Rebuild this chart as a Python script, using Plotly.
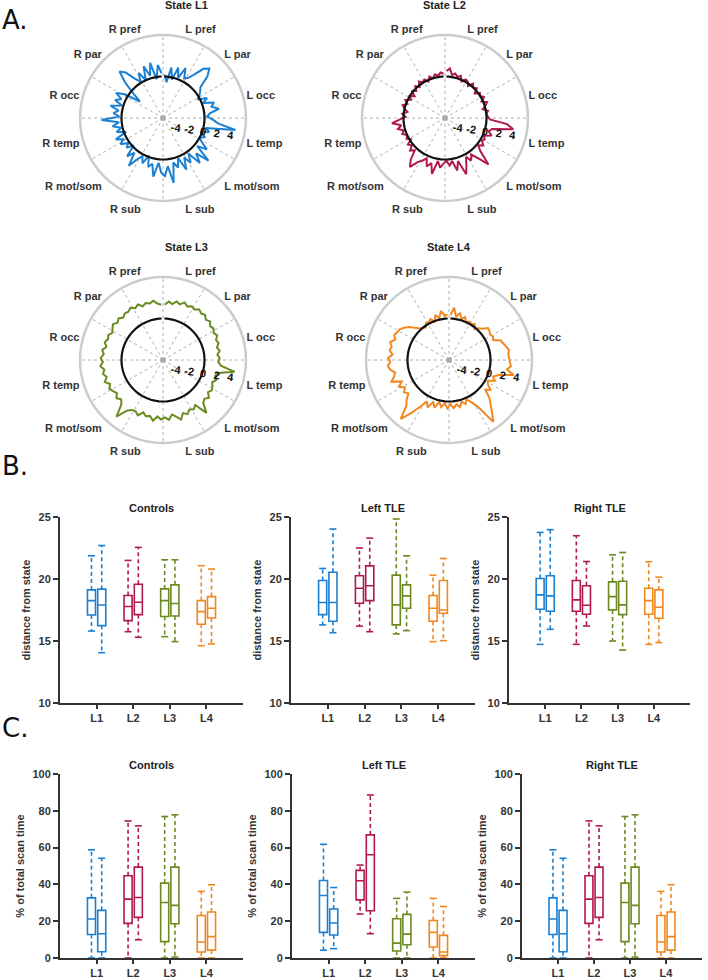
import plotly.graph_objects as go

FONT = "Liberation Sans, Arial, sans-serif"
W, H = 708, 980

# ------------------------------------------------------------------
# A. state profiles (polar); 8 nodes per region, clockwise from top
# ------------------------------------------------------------------
regions = ["L pref", "L par", "L occ", "L temp", "L mot/som", "L sub",
           "R sub", "R mot/som", "R temp", "R occ", "R par", "R pref"]
states = ["L1", "L2", "L3", "L4"]
colours = ["#1b80d2", "#b2194b", "#6a8b22", "#f0881f"]
radial_ticks = [-4, -2, 0, 2, 4]
radial_text = ["-4", "-2", "0", "2", "4"]

dev_L1 = [0.3, -0.8, 1.4, -0.3, 1.6, 0.2, 1.9, 0.5,
          0.8, 1.7, 3.2, 3.8, 2.8, 1.0, 0.6, 0.2,
          -0.3, 1.0, 0.2, 1.7, 1.2, 2.2, 0.8, 0.4,
          1.2, 2.0, 4.6, 0.3, 1.0, -0.2, 0.7, 0.0,
          0.6, 1.8, 0.4, 3.0, 1.0, 2.4, 0.3, 1.6,
          0.5, 2.2, 0.2, 1.5, 0.6, 3.5, 1.0, 2.4,
          1.9, 0.5, 2.6, 0.8, 1.4, -0.2, 1.2, 0.3,
          1.0, 2.5, 0.5, 1.6, -0.2, 0.8, 0.2, 1.2,
          0.5, 1.5, -0.3, 1.0, 0.2, 1.4, 0.4, 2.9,
          0.3, 1.2, 0.5, 1.8, 0.2, 1.4, 0.6, 1.7,
          0.5, -1.9, -0.5, 1.5, 3.2, 2.5, 1.0, 0.2,
          1.4, 0.0, 2.0, 0.4, 2.2, -0.3, 1.7, 0.5]
dev_L2 = [0.8, 1.2, 0.3, 0.6, 0.2, 0.5, -0.2, 0.3,
          0.2, -0.3, 0.4, 0.0, 0.3, -0.5, 0.2, 0.0,
          0.4, -0.2, 0.5, 0.1, -0.4, 0.3, 0.0, 0.2,
          0.5, 3.0, 4.0, 1.0, 0.6, 1.2, 0.2, 0.5,
          0.3, 0.8, 0.2, 1.0, 3.2, 1.5, 0.5, 1.2,
          0.4, 1.5, 2.7, 0.5, 1.8, 0.3, 0.9, 0.2,
          0.6, 1.2, 0.3, 2.3, 0.8, 1.5, 0.4, 1.0,
          1.5, 2.7, 1.8, 0.4, 0.9, 0.2, 0.6, -0.2,
          0.3, 0.0, 0.6, 0.2, 1.0, 0.4, 1.7, 0.5,
          -0.3, 0.2, -0.5, 0.0, 0.4, -0.2, 0.3, -0.4,
          0.0, -0.6, 0.2, -0.3, 0.3, -0.2, 0.5, 0.1,
          0.3, -0.2, 0.4, 0.0, 0.5, 0.2, 0.6, 0.4]
dev_L3 = [2.0, 2.5, 2.2, 2.7, 2.4, 2.9, 2.5, 2.8,
          2.6, 3.0, 2.7, 2.9, 2.5, 2.8, 2.4, 2.6,
          2.3, 2.6, 2.2, 2.4, 2.0, 2.3, 1.9, 2.2,
          2.0, 2.4, 4.5, 2.2, 1.9, 2.2, 1.8, 2.1,
          2.3, 2.0, 2.6, 2.2, 2.5, 3.9, 2.0, 2.4,
          2.1, 2.6, 2.2, 3.0, 2.4, 2.0, 2.7, 2.3,
          2.6, 2.2, 2.9, 2.3, 2.5, 2.1, 2.8, 2.4,
          2.5, 3.0, 4.6, 2.8, 2.3, 2.7, 2.2, 2.5,
          2.8, 2.4, 3.0, 2.5, 2.9, 2.6, 3.1, 2.7,
          3.0, 2.6, 2.9, 2.4, 2.8, 2.5, 2.7, 2.3,
          2.6, 2.9, 2.5, 2.8, 2.4, 2.7, 2.6, 2.9,
          2.5, 2.8, 2.3, 2.6, 2.4, 2.7, 2.2, 2.0]
dev_L4 = [0.5, 1.6, 0.3, 1.0, 0.2, 0.6, 0.0, 0.3,
          0.1, 0.4, -0.2, 0.3, 0.6, 1.3, 1.2, 1.0,
          1.2, 1.0, 2.0, 2.2, 2.5, 2.8, 2.6, 2.7,
          2.8, 3.0, 2.5, 3.6, 1.5, 0.8, 1.3, 0.4,
          0.6, 1.4, 0.8, 2.0, 2.8, 3.8, 5.0, 2.0,
          1.0, 0.2, 0.8, 0.3, 1.0, 0.5, 1.0, 0.4,
          1.0, 0.3, 0.9, 0.2, 1.2, 0.5, 1.5, 0.8,
          2.0, 3.5, 5.0, 3.0, 2.4, 1.6, 2.0, 1.5,
          2.2, 1.5, 2.9, 2.3, 2.0, 2.6, 2.9, 2.5,
          2.8, 2.2, 2.7, 2.5, 2.9, 2.3, 2.7, 2.5,
          2.4, 2.0, 1.5, 0.8, 0.3, 0.0, -0.2, 0.3,
          0.2, 0.5, -0.1, 0.8, 0.2, 1.2, 0.4, 0.6]
profiles = [dev_L1, dev_L2, dev_L3, dev_L4]

# ------------------------------------------------------------------
# B / C. box stats per group: [low whisker, q1, median, q3, high whisker]
# two boxes per state (L1a, L1b, L2a, L2b, ...)
# ------------------------------------------------------------------
box_cats = ["L1", "L2", "L3", "L4"]

dist_controls = [[15.8, 17.1, 18.26, 19.12, 21.87], [14.06, 16.24, 17.9, 19.18, 22.7],
                 [15.75, 16.64, 17.78, 18.67, 21.5], [15.3, 17.13, 18.13, 19.58, 22.55],
                 [15.35, 16.97, 18.26, 19.2, 21.55], [14.95, 17.02, 18.02, 19.53, 21.55],
                 [14.62, 16.35, 17.37, 18.26, 21.07], [14.76, 16.86, 17.64, 18.58, 20.8]]
dist_left = [[16.3, 17.13, 18.1, 19.88, 20.85], [15.67, 16.59, 18.1, 20.55, 24.03],
             [16.2, 18.05, 19.26, 20.26, 22.5], [15.75, 18.26, 19.45, 21.06, 23.3],
             [15.57, 16.3, 17.91, 20.31, 24.84], [15.84, 17.64, 18.64, 19.53, 21.87],
             [14.95, 16.59, 17.64, 18.67, 20.31], [15.03, 17.24, 17.5, 19.88, 21.66]]
dist_right = [[14.73, 17.56, 18.72, 20.04, 23.76], [15.94, 17.4, 18.64, 20.26, 23.98],
              [14.73, 17.4, 18.32, 19.88, 23.49], [16.21, 17.16, 17.88, 19.45, 21.41],
              [15.0, 17.51, 18.58, 19.77, 21.95], [14.27, 17.13, 17.91, 19.82, 22.14],
              [14.73, 17.16, 18.26, 19.26, 21.39], [14.87, 16.83, 17.72, 19.12, 20.15]]

time_controls = [[0, 12.8, 21.2, 32.7, 58.8], [0, 3.4, 13.2, 25.9, 54.2],
                 [0, 18.8, 32.0, 44.7, 74.5], [9.9, 22.1, 32.9, 49.4, 71.8],
                 [0, 8.9, 30.2, 40.7, 76.9], [0.5, 18.6, 28.6, 49.4, 77.8],
                 [0, 3.3, 8.7, 23.1, 36.2], [0, 4.3, 11.6, 25.0, 39.8]]
time_left = [[4.2, 13.9, 34.0, 42.1, 61.8], [5.1, 12.5, 19.0, 26.6, 38.3],
             [23.9, 31.6, 42.0, 47.6, 50.5], [13.2, 25.7, 56.1, 66.9, 88.6],
             [0, 3.8, 8.1, 21.3, 32.4], [0, 7.2, 13.0, 23.7, 35.8],
             [0, 6.0, 13.9, 20.4, 32.4], [0, 1.3, 3.3, 12.3, 28.0]]
time_right = [[0, 12.8, 21.2, 32.7, 58.8], [0, 3.4, 13.2, 25.9, 54.2],
              [0, 18.8, 32.0, 44.7, 74.5], [9.9, 22.1, 32.9, 49.4, 71.8],
              [0, 8.9, 30.2, 40.7, 76.9], [0.5, 18.6, 28.6, 49.4, 77.8],
              [0, 3.3, 8.7, 23.1, 36.2], [0, 4.3, 11.6, 25.0, 39.8]]

group_titles = ["Controls", "Left TLE", "Right TLE"]

# ------------------------------------------------------------------
fig = go.Figure()


def px_x(p):
    return p / W


def px_y(p):
    return 1 - p / H


# polar panels: (left, top) of the square in pixels, size 166
polar_boxes = [(80, 35), (362, 35), (80, 277), (366, 277)]
POL = 166
n_nodes = len(dev_L1)
node_theta = [(k + 0.5) * 360.0 / n_nodes for k in range(n_nodes)]
spoke_r, spoke_t = [], []
for a in range(0, 360, 30):
    spoke_r += [-6, 6, None]
    spoke_t += [a, a, None]

for i, (st, col, dev) in enumerate(zip(states, colours, profiles)):
    sp = "polar" if i == 0 else "polar%d" % (i + 1)
    fig.add_trace(go.Scatterpolar(r=spoke_r, theta=spoke_t, mode="lines", subplot=sp,
                                  line=dict(color="#999999", width=0.8, dash="3px,3px"),
                                  showlegend=False, hoverinfo="skip"))
    fig.add_trace(go.Scatterpolar(r=[-6], theta=[0], mode="markers", subplot=sp,
                                  marker=dict(color="#aaaaaa", size=5, symbol="square"),
                                  showlegend=False, hoverinfo="skip"))
    fig.add_trace(go.Scatterpolar(r=dev, theta=node_theta, mode="lines", subplot=sp,
                                  line=dict(color=col, width=2), showlegend=False))
    fig.add_trace(go.Scatterpolar(r=[0] * n_nodes, theta=node_theta, mode="lines", subplot=sp,
                                  line=dict(color="#111111", width=2.2), showlegend=False))

sector_mid = [15 + 30 * k for k in range(len(regions))]
layout = dict(width=W, height=H, margin=dict(l=0, r=0, t=0, b=0, autoexpand=False),
              paper_bgcolor="white", plot_bgcolor="white",
              font=dict(family=FONT, color="#333333"), showlegend=False)
annotations = []
for i, (x0, y0) in enumerate(polar_boxes):
    key = "polar" if i == 0 else "polar%d" % (i + 1)
    layout[key] = dict(
        domain=dict(x=[px_x(x0), px_x(x0 + POL)], y=[px_y(y0 + POL), px_y(y0)]),
        bgcolor="white",
        radialaxis=dict(range=[-6, 6], tickmode="array", tickvals=radial_ticks,
                        ticktext=radial_text, showgrid=False,
                        showline=False, ticks="", angle=-8, tickangle=0,
                        tickfont=dict(size=11, color="#111111", weight="bold")),
        angularaxis=dict(direction="clockwise", rotation=90, thetaunit="degrees",
                         tickmode="array", tickvals=sector_mid, ticktext=regions,
                         showgrid=False, ticks="", linecolor="#cccccc", linewidth=2.5,
                         tickfont=dict(size=11, color="#333333", weight="bold")),
    )
    annotations.append(dict(text="<b>State %s</b>" % states[i], xref="paper", yref="paper",
                            x=px_x(x0 + POL / 2), y=px_y(y0), yshift=22, showarrow=False,
                            font=dict(size=11, color="#222222"), yanchor="bottom"))

# box panels: (axis left px, axis right px, top px, bottom px)
box_frames = [(60, 243, 517, 703), (291, 475, 517, 703), (509, 690, 517, 703),
              (60, 243, 774, 958), (292, 475, 774, 958), (522, 702, 774, 958)]
box_data = [dist_controls, dist_left, dist_right, time_controls, time_left, time_right]
OFF, BW = 0.14, 0.22

for j, (frame, stats) in enumerate(zip(box_frames, box_data)):
    n = j + 1
    sfx = "" if n == 1 else str(n)
    xa, ya = "x" + sfx, "y" + sfx
    for k, (lo, q1, med, q3, hi) in enumerate(stats):
        col = colours[k // 2]
        pos = k // 2 + 1 + (OFF if k % 2 else -OFF)
        fig.add_trace(go.Scatter(x=[pos, pos, None, pos, pos], y=[q3, hi, None, q1, lo],
                                 mode="lines", xaxis=xa, yaxis=ya, hoverinfo="skip",
                                 line=dict(color=col, width=1.6, dash="4px,3px")))
        fig.add_trace(go.Scatter(x=[pos, pos], y=[hi, lo], mode="markers", xaxis=xa, yaxis=ya,
                                 hoverinfo="skip",
                                 marker=dict(symbol="line-ew", size=5,
                                             line=dict(color=col, width=1.6))))
        fig.add_trace(go.Box(x=[pos], q1=[q1], median=[med], q3=[q3],
                             lowerfence=[q1], upperfence=[q3], width=BW, whiskerwidth=0,
                             xaxis=xa, yaxis=ya, fillcolor="rgba(255,255,255,0)",
                             line=dict(color=col, width=1.6), boxpoints=False))
    l, r, t, b = frame
    is_dist = j < 3
    layout["xaxis" + sfx] = dict(
        domain=[px_x(l), px_x(r)], anchor=ya, range=[0, 5], automargin=False,
        tickmode="array", tickvals=[1, 2, 3, 4], ticktext=box_cats,
        showline=True, linecolor="#333333", linewidth=2, ticks="outside", ticklen=4,
        tickwidth=2, tickcolor="#333333", showgrid=False, zeroline=False,
        tickfont=dict(size=11, color="#333333", weight="bold"))
    layout["yaxis" + sfx] = dict(
        domain=[px_y(b), px_y(t)], anchor=xa, automargin=False,
        range=[10, 25] if is_dist else [0, 100],
        tickvals=[10, 15, 20, 25] if is_dist else [0, 20, 40, 60, 80, 100],
        showline=True, linecolor="#333333", linewidth=2, ticks="outside", ticklen=5,
        tickwidth=2, tickcolor="#333333", showgrid=False, zeroline=False,
        tickfont=dict(size=11, color="#333333", weight="bold"),
        title=dict(text="distance from state" if is_dist else "% of total scan time",
                   font=dict(size=11, color="#333333", weight="bold"), standoff=6))
    annotations.append(dict(text="<b>%s</b>" % group_titles[j % 3], xref=xa + " domain",
                            yref=ya + " domain", x=0.5, y=1, yshift=1, yanchor="bottom",
                            showarrow=False, font=dict(size=11, color="#222222")))

for letter, ypx in [("A.", 20), ("B.", 466), ("C.", 728)]:
    annotations.append(dict(text=letter, xref="paper", yref="paper", x=0.0, y=px_y(ypx),
                            xanchor="left", yanchor="middle", showarrow=False,
                            font=dict(size=26, color="#111111", family="DejaVu Sans")))

layout["annotations"] = annotations
fig.update_layout(**layout)
# drop the browser's default 8px body margin so the figure sits at the page origin
fig.write_html("out.html", config={"displayModeBar": False},
               post_script="document.body.style.margin='0';")
